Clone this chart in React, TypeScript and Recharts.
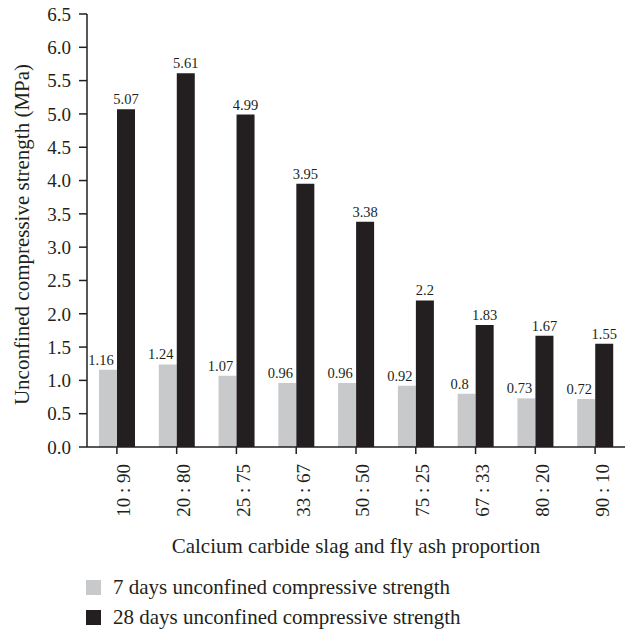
import React from 'react';
import { Bar, BarChart, LabelList, XAxis, YAxis } from 'recharts';

const categories = ['10 : 90', '20 : 80', '25 : 75', '33 : 67', '50 : 50', '75 : 25', '67 : 33', '80 : 20', '90 : 10'];
const day7 = [1.16, 1.24, 1.07, 0.96, 0.96, 0.92, 0.8, 0.73, 0.72];
const day28 = [5.07, 5.61, 4.99, 3.95, 3.38, 2.2, 1.83, 1.67, 1.55];
const yTicks = [0, 0.5, 1, 1.5, 2, 2.5, 3, 3.5, 4, 4.5, 5, 5.5, 6, 6.5];
const seriesNames = ['7 days unconfined compressive strength', '28 days unconfined compressive strength'];

const INK = '#231f20';
const GREY = '#c8c9cb';
const FONT = '"Liberation Serif", "Times New Roman", serif';

const data = categories.map((c, i) => ({ name: c, d7: day7[i], d28: day28[i] }));

function YTitle({ viewBox }: any) {
  const x = viewBox.x + 12;
  const y = viewBox.y + viewBox.height / 2 + 4;
  return (
    <text
      x={x}
      y={y}
      transform={`rotate(-90 ${x} ${y})`}
      textAnchor="middle"
      dominantBaseline="central"
      fill={INK}
      fontSize={21}
      fontFamily={FONT}
    >
      Unconfined compressive strength (MPa)
    </text>
  );
}

export default function App() {
  const colors = [GREY, INK];
  return (
    <div style={{ position: 'absolute', left: 0, top: 0, width: 629, height: 630, background: '#fff', fontFamily: FONT }}>
      <BarChart
        width={629}
        height={630}
        data={data}
        margin={{ top: 14, right: 4, bottom: 73, left: 10 }}
        barGap={0}
        barSize={18}
      >
        <YAxis
          width={77}
          domain={[0, 6.5]}
          ticks={yTicks}
          interval={0}
          tickFormatter={(v: number) => v.toFixed(1)}
          tick={{ fontSize: 19, fill: INK, fontFamily: FONT }}
          tickSize={8}
          tickMargin={8}
          axisLine={{ stroke: INK, strokeWidth: 1.5 }}
          tickLine={{ stroke: INK, strokeWidth: 1.5 }}
          label={<YTitle />}
        />
        <XAxis
          dataKey="name"
          height={110}
          interval={0}
          angle={-90}
          textAnchor="end"
          tick={{ fontSize: 19, fill: INK, fontFamily: FONT }}
          tickSize={7}
          tickMargin={10}
          axisLine={{ stroke: INK, strokeWidth: 1.5 }}
          tickLine={{ stroke: INK, strokeWidth: 1.5 }}
          label={{
            value: 'Calcium carbide slag and fly ash proportion',
            position: 'insideBottom',
            offset: 4,
            fill: INK,
            fontSize: 21,
            fontFamily: FONT,
          }}
        />
        <Bar dataKey="d7" fill={GREY} isAnimationActive={false}>
          <LabelList dataKey="d7" position="top" offset={5} dx={-7} fill={INK} fontSize={14.5} fontFamily={FONT} />
        </Bar>
        <Bar dataKey="d28" fill={INK} isAnimationActive={false}>
          <LabelList dataKey="d28" position="top" offset={5} fill={INK} fontSize={14.5} fontFamily={FONT} />
        </Bar>
      </BarChart>
      <div style={{ position: 'absolute', left: 86, top: 572 }}>
        {seriesNames.map((n, i) => (
          <div key={n} style={{ display: 'flex', alignItems: 'center', height: 30, fontSize: 21, color: INK }}>
            <span style={{ display: 'inline-block', width: 15, height: 15, background: colors[i], marginRight: 12 }} />
            {n}
          </div>
        ))}
      </div>
    </div>
  );
}
